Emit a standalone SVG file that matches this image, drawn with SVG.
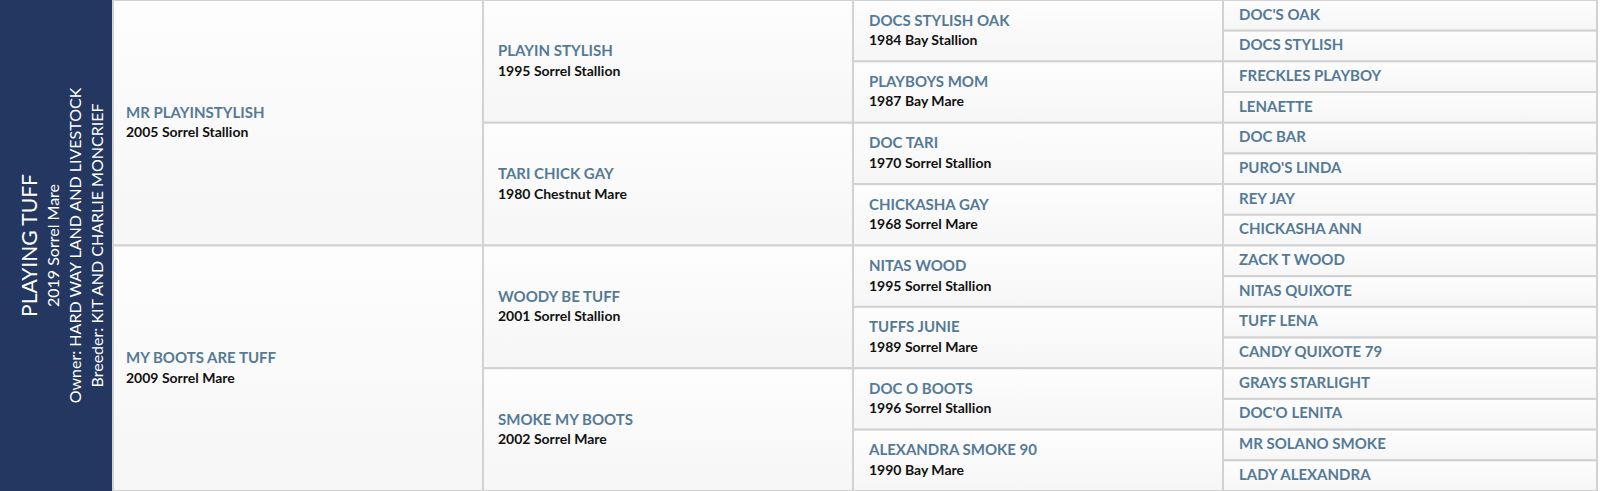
<svg xmlns="http://www.w3.org/2000/svg" width="1600" height="491" viewBox="0 0 1600 491">
<defs>
<linearGradient id="cellbg" x1="0" y1="0" x2="0" y2="1">
<stop offset="0" stop-color="#fdfdfd"/>
<stop offset="1" stop-color="#f6f6f6"/>
</linearGradient>
<style>
.cell{fill:url(#cellbg);stroke:#d2d2d2;stroke-width:2}
.nm{font-family:Lato,"Liberation Sans",sans-serif;font-weight:700;font-size:15px;fill:#557a96}
.yr{font-family:Lato,"Liberation Sans",sans-serif;font-weight:700;font-size:14px;fill:#111}
.pt{font-family:Lato,"Liberation Sans",sans-serif;fill:#fff;text-anchor:middle}
</style>
</defs>
<rect x="0" y="0" width="1600" height="491" fill="#ffffff"/>
<g id="subject">
<rect x="0" y="0" width="112" height="491" fill="#243761"/>
<text class="pt" font-size="21" transform="translate(37,245.5) rotate(-90)">PLAYING TUFF</text>
<text class="pt" font-size="16" transform="translate(59,245.5) rotate(-90)">2019 Sorrel Mare</text>
<text class="pt" font-size="16" transform="translate(81,245.5) rotate(-90)">Owner: HARD WAY LAND AND LIVESTOCK</text>
<text class="pt" font-size="16" transform="translate(103,245.5) rotate(-90)">Breeder: KIT AND CHARLIE MONCRIEF</text>
</g>
<g id="sire"><rect class="cell" x="113" y="0" width="370" height="245.5"/><text class="nm" x="126" y="117.8">MR PLAYINSTYLISH</text><text class="yr" x="126" y="137.3">2005 Sorrel Stallion</text></g>
<g id="dam"><rect class="cell" x="113" y="245.5" width="370" height="245.5"/><text class="nm" x="126" y="363.3">MY BOOTS ARE TUFF</text><text class="yr" x="126" y="382.8">2009 Sorrel Mare</text></g>
<g id="ss"><rect class="cell" x="483" y="0" width="370" height="122.75"/><text class="nm" x="498" y="56.4">PLAYIN STYLISH</text><text class="yr" x="498" y="75.9">1995 Sorrel Stallion</text></g>
<g id="sd"><rect class="cell" x="483" y="122.75" width="370" height="122.75"/><text class="nm" x="498" y="179.1">TARI CHICK GAY</text><text class="yr" x="498" y="198.6">1980 Chestnut Mare</text></g>
<g id="ds"><rect class="cell" x="483" y="245.5" width="370" height="122.75"/><text class="nm" x="498" y="301.9">WOODY BE TUFF</text><text class="yr" x="498" y="321.4">2001 Sorrel Stallion</text></g>
<g id="dd"><rect class="cell" x="483" y="368.25" width="370" height="122.75"/><text class="nm" x="498" y="424.6">SMOKE MY BOOTS</text><text class="yr" x="498" y="444.1">2002 Sorrel Mare</text></g>
<g id="sss"><rect class="cell" x="853" y="0" width="370" height="61.375"/><text class="nm" x="869" y="25.5">DOCS STYLISH OAK</text><text class="yr" x="869" y="45">1984 Bay Stallion</text></g>
<g id="ssd"><rect class="cell" x="853" y="61.375" width="370" height="61.375"/><text class="nm" x="869" y="86.9">PLAYBOYS MOM</text><text class="yr" x="869" y="106.4">1987 Bay Mare</text></g>
<g id="sds"><rect class="cell" x="853" y="122.75" width="370" height="61.375"/><text class="nm" x="869" y="148.2">DOC TARI</text><text class="yr" x="869" y="167.7">1970 Sorrel Stallion</text></g>
<g id="sdd"><rect class="cell" x="853" y="184.125" width="370" height="61.375"/><text class="nm" x="869" y="209.6">CHICKASHA GAY</text><text class="yr" x="869" y="229.1">1968 Sorrel Mare</text></g>
<g id="dss"><rect class="cell" x="853" y="245.5" width="370" height="61.375"/><text class="nm" x="869" y="271">NITAS WOOD</text><text class="yr" x="869" y="290.5">1995 Sorrel Stallion</text></g>
<g id="dsd"><rect class="cell" x="853" y="306.875" width="370" height="61.375"/><text class="nm" x="869" y="332.4">TUFFS JUNIE</text><text class="yr" x="869" y="351.9">1989 Sorrel Mare</text></g>
<g id="dds"><rect class="cell" x="853" y="368.25" width="370" height="61.375"/><text class="nm" x="869" y="393.7">DOC O BOOTS</text><text class="yr" x="869" y="413.2">1996 Sorrel Stallion</text></g>
<g id="ddd"><rect class="cell" x="853" y="429.625" width="370" height="61.375"/><text class="nm" x="869" y="455.1">ALEXANDRA SMOKE 90</text><text class="yr" x="869" y="474.6">1990 Bay Mare</text></g>
<g id="g4-1"><rect class="cell" x="1223" y="0" width="374" height="30.6875"/><text class="nm" x="1239" y="19.5">DOC'S OAK</text></g>
<g id="g4-2"><rect class="cell" x="1223" y="30.6875" width="374" height="30.6875"/><text class="nm" x="1239" y="50.2">DOCS STYLISH</text></g>
<g id="g4-3"><rect class="cell" x="1223" y="61.375" width="374" height="30.6875"/><text class="nm" x="1239" y="80.9">FRECKLES PLAYBOY</text></g>
<g id="g4-4"><rect class="cell" x="1223" y="92.0625" width="374" height="30.6875"/><text class="nm" x="1239" y="111.6">LENAETTE</text></g>
<g id="g4-5"><rect class="cell" x="1223" y="122.75" width="374" height="30.6875"/><text class="nm" x="1239" y="142.3">DOC BAR</text></g>
<g id="g4-6"><rect class="cell" x="1223" y="153.4375" width="374" height="30.6875"/><text class="nm" x="1239" y="172.9">PURO'S LINDA</text></g>
<g id="g4-7"><rect class="cell" x="1223" y="184.125" width="374" height="30.6875"/><text class="nm" x="1239" y="203.6">REY JAY</text></g>
<g id="g4-8"><rect class="cell" x="1223" y="214.8125" width="374" height="30.6875"/><text class="nm" x="1239" y="234.3">CHICKASHA ANN</text></g>
<g id="g4-9"><rect class="cell" x="1223" y="245.5" width="374" height="30.6875"/><text class="nm" x="1239" y="265.0">ZACK T WOOD</text></g>
<g id="g4-10"><rect class="cell" x="1223" y="276.1875" width="374" height="30.6875"/><text class="nm" x="1239" y="295.7">NITAS QUIXOTE</text></g>
<g id="g4-11"><rect class="cell" x="1223" y="306.875" width="374" height="30.6875"/><text class="nm" x="1239" y="326.4">TUFF LENA</text></g>
<g id="g4-12"><rect class="cell" x="1223" y="337.5625" width="374" height="30.6875"/><text class="nm" x="1239" y="357.1">CANDY QUIXOTE 79</text></g>
<g id="g4-13"><rect class="cell" x="1223" y="368.25" width="374" height="30.6875"/><text class="nm" x="1239" y="387.8">GRAYS STARLIGHT</text></g>
<g id="g4-14"><rect class="cell" x="1223" y="398.9375" width="374" height="30.6875"/><text class="nm" x="1239" y="418.4">DOC'O LENITA</text></g>
<g id="g4-15"><rect class="cell" x="1223" y="429.625" width="374" height="30.6875"/><text class="nm" x="1239" y="449.1">MR SOLANO SMOKE</text></g>
<g id="g4-16"><rect class="cell" x="1223" y="460.3125" width="374" height="30.6875"/><text class="nm" x="1239" y="479.8">LADY ALEXANDRA</text></g>
</svg>
